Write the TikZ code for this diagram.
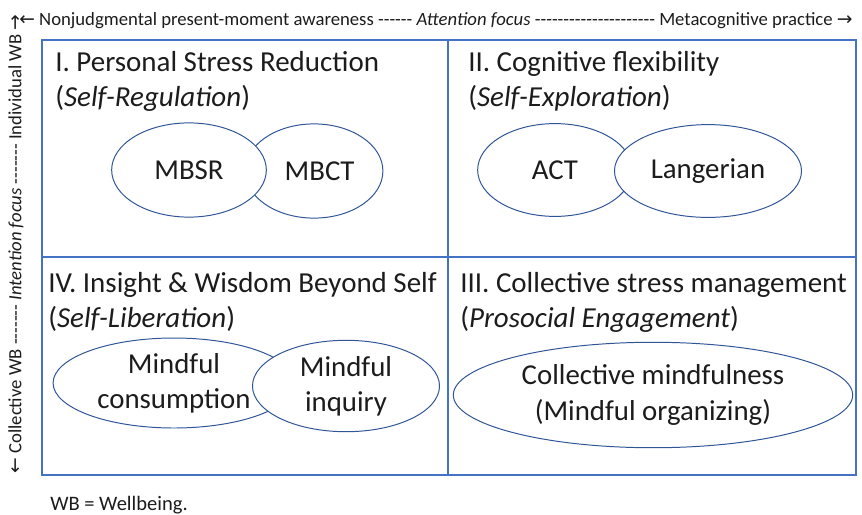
\documentclass[tikz,border=0pt]{standalone}
\usepackage{fontspec}
\setmainfont{Carlito}[Ligatures=TeXOff]
\newfontfamily\arrowfont{DejaVu Sans}
\usetikzlibrary{shapes.geometric}

\definecolor{quadblue}{RGB}{68,114,196}
\definecolor{ovalblue}{RGB}{47,85,151}
\definecolor{inkgray}{RGB}{28,28,28}

\tikzset{
  quad title/.style={anchor=base west, inner sep=0pt, text=inkgray,
    font=\fontsize{20.6}{24}\selectfont},
  oval/.style={ellipse, draw=ovalblue, fill=white, line width=0.7pt,
    inner sep=0pt, align=center, text=inkgray,
    font=\fontsize{20.5}{25}\selectfont},
  axis label/.style={inner sep=0pt, text=inkgray,
    font=\fontsize{13.3}{16}\selectfont},
}

\begin{document}
\begin{tikzpicture}[x=0.025cm,y=-0.025cm]
\useasboundingbox (0,0) rectangle (862,514);

\coordinate (NW) at (42,40);
\coordinate (SE) at (856,475);
\coordinate (mid) at (448,257);

% quadrants
\draw [quadblue, line width=0.8pt] (NW) rectangle (SE);
\draw [quadblue, line width=0.8pt] (mid |- NW) -- (mid |- SE);
\draw [quadblue, line width=0.8pt] (mid -| NW) -- (mid -| SE);

% axis labels
\node (attention) [axis label, anchor=base west] at (19,25)
  {{\arrowfont\char"2190} Nonjudgmental present-moment awareness ------ \textit{Attention focus} --------------------- Metacognitive practice {\arrowfont\char"2192}};
\node (intention) [axis label, rotate=90] at (16,244)
  {{\arrowfont\char"2190} Collective WB ------- \textit{Intention focus} ------- Individual WB {\arrowfont\char"2192}};
\node (note) [axis label, anchor=base west, font=\fontsize{14.6}{17}\selectfont] at (50,510) {WB = Wellbeing.};

% quadrant titles
\node (q1-title) [quad title] at (55,71) {I. Personal Stress Reduction};
\node (q1-sub) [quad title] at (55,106) {(\textit{Self-Regulation})};
\node (q2-title) [quad title] at (468,71) {II. Cognitive flexibility};
\node (q2-sub) [quad title] at (468,106) {(\textit{Self-Exploration})};
\node (q3-title) [quad title] at (460,292) {III. Collective stress management};
\node (q3-sub) [quad title] at (460,327) {(\textit{Prosocial Engagement})};
\node (q4-title) [quad title] at (48,292) {IV. Insight \& Wisdom Beyond Self};
\node (q4-sub) [quad title] at (48,327) {(\textit{Self-Liberation})};

% practices
\node (mbct) [oval, minimum width=98pt, minimum height=67pt] at (314,171) {\hspace*{8pt}MBCT};
\node (mbsr) [oval, minimum width=110pt, minimum height=67pt] at (189,170) {MBSR};
\node (act) [oval, minimum width=110pt, minimum height=66pt] at (555,170) {ACT};
\node (langer) [oval, minimum width=133pt, minimum height=66pt] at (708,171) {Langerian};
\node (consumption) [oval, minimum width=172pt, minimum height=64pt] at (174,383) {Mindful\\consumption};
\node (inquiry) [oval, minimum width=133pt, minimum height=65pt] at (346,386) {Mindful\\inquiry};
\node (collective) [oval, minimum width=284pt, minimum height=75pt] at (653,395) {Collective mindfulness\\(Mindful organizing)};

\end{tikzpicture}
\end{document}
